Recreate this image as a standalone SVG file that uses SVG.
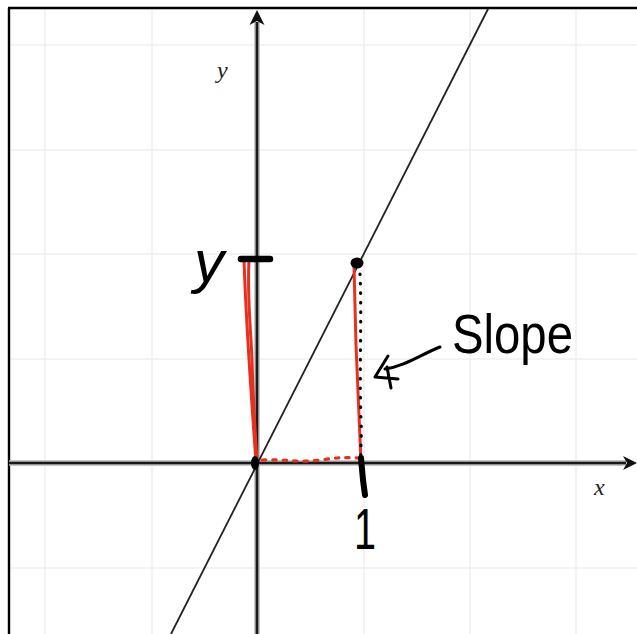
<svg xmlns="http://www.w3.org/2000/svg" width="637" height="634" viewBox="0 0 637 634">
<style>
.grid{stroke:#efefef;stroke-width:1.5;fill:none}
.halo{stroke:#b8b8b8;stroke-width:5.5;fill:none}
.axis{stroke:#1a1a1a;stroke-width:2.6;fill:none}
.ink{stroke:#000;fill:none;stroke-linecap:round;stroke-linejoin:round}
.red{stroke:#e8301e;fill:none;stroke-linecap:round;stroke-linejoin:round}
.lbl{font-family:"Liberation Serif",serif;font-style:italic;font-size:24px;fill:#222}
.hand{font-family:"Liberation Sans",sans-serif;fill:#000}
</style>
<rect width="637" height="634" fill="#fff"/>
<g id="grid">
<path class="grid" d="M45,8V634M152,8V634M364,8V634M470,8V634M576,8V634M9,45H637M9,150H637M9,254H637M9,359H637M9,568H637"/>
</g>
<g id="frame">
<path d="M8,8H637M9,8V634" stroke="#000" stroke-width="2.4" fill="none"/>
</g>
<g id="axes">
<path class="halo" d="M257,634V22M9,463H626"/>
<path class="axis" d="M257,634V22M9,463H626"/>
<path d="M257,10L264.5,25L257,21L249.5,25Z" fill="#111"/>
<path d="M637,463L623,456L627,463L623,470Z" fill="#111"/>
<text class="lbl" x="217" y="78">y</text>
<text class="lbl" x="594" y="495">x</text>
</g>
<g id="line">
<path d="M171,634L488,9" stroke="#222" stroke-width="1.8" fill="none"/>
</g>
<g id="connectors">
<path class="red" stroke-width="3" d="M244,260C246,320 250,380 256,462"/>
<path class="red" stroke-width="3" d="M249,259C247,300 251,330 252,360C253,400 255,430 257,462"/>
<path class="red" stroke-width="3" d="M354,266L356,345L361,462"/>
<path class="red" stroke-width="3.2" stroke-dasharray="3.5 7" d="M262,460C285,459 300,463 320,460C335,458 345,457 358,458"/>
<path class="ink" stroke-width="3.2" stroke-dasharray="0.5 9" d="M360,274C362,320 359,370 361,420C362,440 360,450 361,458"/>
<path class="ink" stroke-width="6.5" d="M241,259H270"/>
<ellipse cx="357" cy="263" rx="6.5" ry="5.5" fill="#000"/>
<ellipse cx="255" cy="463" rx="4" ry="7" fill="#000"/>
<path class="ink" stroke-width="6" d="M361,458L363,480L365,495"/>
<path class="ink" stroke-width="3" d="M440,347C420,355 405,366 385,369"/>
<path class="ink" stroke-width="3" d="M388,356L375,377L398,379M387,367L391,388"/>
</g>
<g id="labels">
<text class="hand" x="452" y="353" font-size="56" textLength="121" lengthAdjust="spacingAndGlyphs">Slope</text>
<text class="hand" x="194" y="282" font-size="60" font-style="italic" textLength="30" lengthAdjust="spacingAndGlyphs">y</text>
<text class="hand" x="354" y="549" font-size="58" textLength="22" lengthAdjust="spacingAndGlyphs">1</text>
</g>
</svg>
